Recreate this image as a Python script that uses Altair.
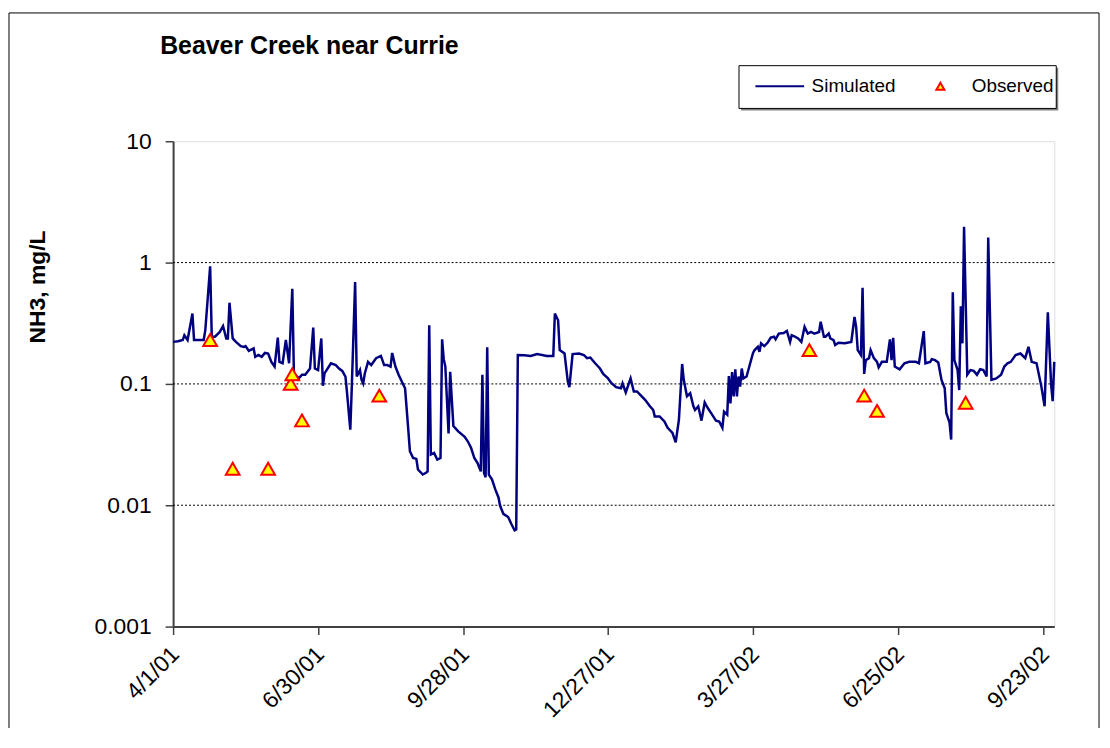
import altair as alt
import pandas as pd

# ---------------- data ----------------
# Simulated NH3 (mg/L): day offset from 4/1/2001 and value
sim_days = [0, 3, 6, 7, 9, 12, 13, 19, 20, 23, 24, 26, 29, 31, 33, 34, 35, 37, 39, 42,
            44, 45, 47, 50, 51, 53, 55, 57, 59, 61, 63, 65, 66, 68, 70, 72, 74, 75, 78, 80,
            82, 85, 87, 88, 90, 92, 93, 94, 98, 101, 103, 105, 107, 108, 110, 111, 113, 114, 116, 117,
            118, 119, 121, 123, 126, 129, 131, 133, 135, 136, 138, 140, 143, 144, 146, 147, 149, 151, 152, 155,
            157, 158, 159, 160, 162, 164, 166, 167, 168, 169, 171, 172, 174, 177, 181, 183, 185, 187, 189, 191,
            192, 193, 194, 195, 196, 198, 200, 202, 203, 205, 208, 210, 212, 213, 214, 218, 222, 226, 232, 236,
            237, 239, 240, 243, 245, 246, 248, 252, 255, 257, 259, 262, 265, 267, 270, 272, 275, 278, 279, 281,
            284, 286, 288, 290, 293, 296, 298, 299, 302, 305, 307, 310, 312, 314, 316, 317, 319, 321, 323, 324,
            326, 328, 330, 332, 334, 337, 339, 341, 342, 344, 345, 346, 347, 348, 349, 350, 351, 352, 353, 354,
            356, 360, 361, 363, 364, 365, 367, 369, 371, 373, 374, 376, 379, 381, 383, 384, 386, 388, 390, 392,
            394, 396, 398, 401, 402, 404, 405, 407, 408, 410, 411, 413, 417, 421, 423, 424, 425, 427, 428, 429,
            430, 432, 433, 435, 437, 438, 440, 443, 445, 446, 447, 448, 451, 454, 457, 461, 463, 466, 467, 470,
            471, 473, 475, 477, 479, 480, 482, 483, 484, 485, 487, 488, 489, 490, 491, 493, 495, 497, 499, 501,
            503, 505, 506, 508, 511, 514, 516, 518, 520, 523, 526, 529, 531, 533, 536, 539, 541, 543, 545, 546,
            547]
sim_vals = [0.222, 0.225, 0.23, 0.252, 0.23, 0.38, 0.23, 0.23, 0.277, 0.93, 0.245, 0.245, 0.268, 0.30, 0.237, 0.237, 0.467, 0.237, 0.222, 0.205,
            0.202, 0.205, 0.187, 0.196, 0.167, 0.173, 0.167, 0.18, 0.178, 0.152, 0.139, 0.241, 0.152, 0.148, 0.23, 0.148, 0.609, 0.122, 0.111, 0.119,
            0.119, 0.134, 0.291, 0.134, 0.13, 0.237, 0.0965, 0.122, 0.148, 0.143, 0.134, 0.128, 0.115, 0.084, 0.042, 0.1, 0.69, 0.115, 0.13, 0.108,
            0.101, 0.122, 0.152, 0.143, 0.163, 0.17, 0.143, 0.143, 0.139, 0.18, 0.139, 0.119, 0.098, 0.092, 0.042, 0.0279, 0.0245, 0.0241, 0.0197, 0.0179,
            0.0185, 0.019, 0.305, 0.0262, 0.027, 0.0238, 0.0245, 0.233, 0.16, 0.139, 0.039, 0.126, 0.045, 0.0406, 0.0367, 0.0335, 0.0296, 0.0245, 0.0223, 0.019,
            0.119, 0.0185, 0.017, 0.2, 0.0179, 0.0163, 0.0135, 0.0116, 0.0099, 0.0085, 0.008, 0.007, 0.0062, 0.0063, 0.173, 0.172, 0.17, 0.176, 0.17, 0.17,
            0.38, 0.335, 0.19, 0.178, 0.105, 0.094, 0.176, 0.178, 0.173, 0.163, 0.165, 0.148, 0.134, 0.121, 0.111, 0.102, 0.094, 0.092, 0.101, 0.085,
            0.111, 0.0866, 0.0866, 0.0813, 0.074, 0.0654, 0.0612, 0.054, 0.054, 0.049, 0.0434, 0.0394, 0.033, 0.0507, 0.146, 0.108, 0.079, 0.084, 0.0654, 0.061,
            0.0654, 0.0498, 0.0703, 0.063, 0.0575, 0.0498, 0.049, 0.0434, 0.059, 0.0557, 0.116, 0.069, 0.125, 0.079, 0.132, 0.079, 0.115, 0.095, 0.134, 0.111,
            0.115, 0.18, 0.19, 0.202, 0.184, 0.216, 0.205, 0.218, 0.241, 0.245, 0.233, 0.26, 0.263, 0.273, 0.222, 0.252, 0.245, 0.237, 0.222, 0.295,
            0.26, 0.268, 0.26, 0.268, 0.325, 0.245, 0.245, 0.26, 0.237, 0.23, 0.209, 0.218, 0.216, 0.222, 0.356, 0.295, 0.19, 0.173, 0.62, 0.121,
            0.157, 0.163, 0.19, 0.163, 0.152, 0.137, 0.152, 0.152, 0.233, 0.157, 0.24, 0.139, 0.132, 0.148, 0.152, 0.152, 0.148, 0.272, 0.148, 0.152,
            0.16, 0.157, 0.15, 0.108, 0.092, 0.0575, 0.048, 0.0348, 0.57, 0.157, 0.13, 0.089, 0.436, 0.216, 1.97, 0.119, 0.13, 0.128, 0.119, 0.132,
            0.13, 0.115, 1.61, 0.108, 0.111, 0.119, 0.139, 0.148, 0.152, 0.173, 0.178, 0.163, 0.202, 0.152, 0.148, 0.095, 0.0654, 0.39, 0.101, 0.072,
            0.152]

# Observed NH3 (mg/L)
obs_dates = ["2001-04-24", "2001-05-08", "2001-05-30", "2001-06-13", "2001-06-14", "2001-06-20",
             "2001-08-07", "2002-05-01", "2002-06-04", "2002-06-12", "2002-08-06"]
obs_vals = [0.23, 0.02, 0.02, 0.10, 0.12, 0.05, 0.08, 0.19, 0.08, 0.06, 0.07]

x_tick_dates = ["2001-04-01", "2001-06-30", "2001-09-28", "2001-12-27", "2002-03-27", "2002-06-25", "2002-09-23"]
x_domain_dates = ["2001-04-01", "2002-09-30"]
y_ticks = [10, 1, 0.1, 0.01, 0.001]
y_grid = [1, 0.1, 0.01]
series_names = ["Simulated", "Observed"]

# ---------------- tables ----------------
start = pd.Timestamp("2001-04-01")
sim_df = pd.DataFrame({"date": start + pd.to_timedelta(sim_days, unit="D"),
                       "value": sim_vals, "series": "Simulated"})
obs_df = pd.DataFrame({"date": pd.to_datetime(obs_dates), "value": obs_vals, "series": "Observed"})
grid_df = pd.DataFrame({"value": y_grid})
one_row = pd.DataFrame({"k": [0]})


def dt(s):
    t = pd.Timestamp(s)
    return alt.DateTime(year=t.year, month=t.month, date=t.day)


FONT = "Liberation Sans, Arial, sans-serif"

x_scale = alt.Scale(domain=[dt(d) for d in x_domain_dates])
y_scale = alt.Scale(type="log", domain=[0.001, 10], nice=False)

x_axis = alt.Axis(values=[dt(d) for d in x_tick_dates], format="%-m/%-d/%y", labelAngle=315,
                  labelAlign="right", labelBaseline="middle", labelPadding=16, labelOffset=2,
                  labelFontSize=23, labelFont=FONT, labelColor="#000000", tickSize=8,
                  tickColor="#404040", tickWidth=1.5, domainColor="#404040", domainWidth=2,
                  grid=False, title=None, labelOverlap=False)
y_axis = alt.Axis(values=y_ticks, format="~g", labelFontSize=23, labelFont=FONT, labelColor="#000000",
                  labelPadding=14, tickSize=8, tickColor="#404040", tickWidth=1.5,
                  domainColor="#404040", domainWidth=2, grid=False, title="NH3, mg/L",
                  titleFont=FONT, titleFontSize=23, titleFontWeight="bold", titleColor="#000000",
                  titleAngle=270, titleX=-136, titleY=146, titleAlign="center",
                  titleBaseline="middle", labelOverlap=False)

x_enc = alt.X("date:T", scale=x_scale, axis=x_axis)
y_enc = alt.Y("value:Q", scale=y_scale, axis=y_axis)

legend = alt.Legend(title=None, orient="none", legendX=601, legendY=-65, direction="horizontal",
                    labelFontSize=19, labelFont=FONT, labelColor="#000000", labelOffset=22,
                    columnPadding=35, padding=0,
                    symbolSize=64, symbolStrokeWidth=2, symbolOpacity=1)

stroke_enc = alt.Stroke("series:N", scale=alt.Scale(domain=series_names, range=["#000080", "#FF0000"]),
                        legend=legend)
fill_enc = alt.Fill("series:N", scale=alt.Scale(domain=series_names, range=["#000080", "#FFFF00"]),
                    legend=legend)
shape_enc = alt.Shape("series:N", scale=alt.Scale(domain=series_names, range=["M-6.25,0H6", "triangle-up"]),
                      legend=legend)

# outer chart frame and legend box (decoration)
frame = alt.Chart(one_row).mark_rect(fill="transparent", stroke="#000000", strokeWidth=1).encode(
    x=alt.value(-165), x2=alt.value(931), y=alt.value(-129), y2=alt.value(700))
legend_shadow = alt.Chart(one_row).mark_rect(fill="#808080").encode(
    x=alt.value(571), x2=alt.value(890), y=alt.value(-74), y2=alt.value(-31))
legend_box = alt.Chart(one_row).mark_rect(fill="#FFFFFF", stroke="#000000", strokeWidth=1).encode(
    x=alt.value(569), x2=alt.value(888), y=alt.value(-76), y2=alt.value(-33))

grid = alt.Chart(grid_df).mark_rule(color="#000000", strokeDash=[2, 2], strokeWidth=1).encode(y=y_enc)

line = alt.Chart(sim_df).mark_line(strokeWidth=2.5, interpolate="linear").encode(
    x=x_enc, y=y_enc, stroke=stroke_enc)

points = alt.Chart(obs_df).mark_point(filled=True, opacity=1, size=190, strokeWidth=2).encode(
    x=x_enc, y=y_enc, stroke=stroke_enc, fill=fill_enc, shape=shape_enc)

chart = alt.layer(frame, legend_shadow, legend_box, grid, line, points).properties(
    width=886, height=488,
    autosize=alt.AutoSizeParams(type="none"),
    padding={"left": 166, "top": 132, "right": 48, "bottom": 100},
    title=alt.TitleParams("Beaver Creek near Currie", anchor="start", frame="group", fontSize=25,
                          font=FONT, fontWeight="bold", color="#000000", dx=-13, offset=-67,
                          baseline="alphabetic"),
).configure_view(stroke="#8c8c8c", strokeWidth=2).configure(background="#FFFFFF")

chart.save("out.html", embed_options={"renderer": "svg", "actions": False})
